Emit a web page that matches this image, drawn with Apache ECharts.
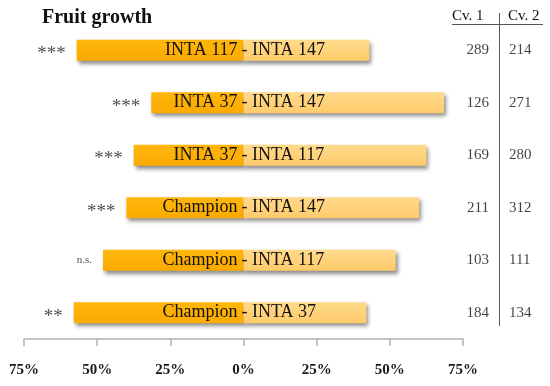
<!DOCTYPE html>
<html><head><meta charset="utf-8">
<script src="https://cdn.jsdelivr.net/npm/echarts@6/dist/echarts.min.js"></script>
<style>html,body{margin:0;padding:0;background:#fff}#c{width:550px;height:386px}</style>
</head><body><div id="c"></div>
<script>
var leftNames = ['INTA 117', 'INTA 37', 'INTA 37', 'Champion', 'Champion', 'Champion'];
var rightNames = ['INTA 147', 'INTA 147', 'INTA 117', 'INTA 147', 'INTA 117', 'INTA 37'];
var leftPct = [57, 31.5, 37.5, 40, 48, 58];
var rightPct = [43, 68.5, 62.5, 60, 52, 42];
var signif = ['***', '***', '***', '***', 'n.s.', '**'];
var cv1 = [289, 126, 169, 211, 103, 184];
var cv2 = [214, 271, 280, 312, 111, 134];
var xTicks = [-75, -50, -25, 0, 25, 50, 75];

var serif = '"Liberation Serif","DejaVu Serif",serif';
var cats = leftNames.map(function(n, i){ return 'r' + i; });
var chart = echarts.init(document.getElementById('c'));
var shadow = {shadowBlur: 4, shadowColor: 'rgba(0,0,0,0.45)', shadowOffsetX: 2, shadowOffsetY: 3};
chart.setOption({
  animation: false,
  grid: [
    {left: 24, right: 87, top: 24, bottom: 47},
    {left: 449, width: 100, top: 24, bottom: 47}
  ],
  xAxis: [
    {type: 'value', gridIndex: 0, min: xTicks[0], max: xTicks[xTicks.length - 1], interval: 25,
     splitLine: {show: false},
     axisLine: {show: true, lineStyle: {color: '#b3b3b3', width: 1.5}},
     axisTick: {show: true, length: 7, lineStyle: {color: '#b3b3b3', width: 1.5}},
     axisLabel: {margin: 24, fontFamily: serif, fontWeight: 'bold', fontSize: 15, color: '#1a1a1a',
       formatter: function(v){ return Math.abs(v) + '%'; }}},
    {type: 'value', gridIndex: 1, min: 0, max: 100, show: false}
  ],
  yAxis: [
    {type: 'category', gridIndex: 0, data: cats, inverse: true, show: false},
    {type: 'category', gridIndex: 1, data: cats, inverse: true, show: false}
  ],
  series: [
    {type: 'bar', stack: 'a', barWidth: 21, data: leftPct.map(function(v){ return -v; }),
     itemStyle: Object.assign({color: new echarts.graphic.LinearGradient(0,0,0,1,[{offset:0,color:'#FFB60A'},{offset:1,color:'#FBAA00'}])}, shadow),
     label: {show: true, position: 'insideRight', distance: 6, fontFamily: serif, fontSize: 18, color: '#111',
       formatter: function(p){ return leftNames[p.dataIndex]; }}},
    {type: 'bar', stack: 'a', barWidth: 21, data: rightPct,
     itemStyle: Object.assign({color: new echarts.graphic.LinearGradient(0,0,0,1,[{offset:0,color:'#FFDA8C'},{offset:1,color:'#FFCB6A'}])}, shadow),
     label: {show: true, position: 'insideLeft', distance: 0, offset: [-2, 0], fontFamily: serif, fontSize: 18, color: '#111',
       formatter: function(p){ return '- ' + rightNames[p.dataIndex]; }}},
    {type: 'scatter', symbolSize: 0, data: leftPct.map(function(v, i){
       return {value: [-v, i], label: {fontSize: signif[i] === 'n.s.' ? 11 : 19, offset: signif[i] === 'n.s.' ? [0, 0] : [0, 4]}};
     }),
     label: {show: true, position: 'left', distance: 11, fontFamily: serif, color: '#222',
       formatter: function(p){ return signif[p.dataIndex]; }}},
    {type: 'scatter', xAxisIndex: 1, yAxisIndex: 1, symbolSize: 0, data: cv1.map(function(v, i){ return [40, i, v]; }),
     label: {show: true, position: 'left', distance: 0, fontFamily: serif, fontSize: 15, color: '#111',
       formatter: function(p){ return cv1[p.dataIndex]; }}},
    {type: 'scatter', xAxisIndex: 1, yAxisIndex: 1, symbolSize: 0, data: cv2.map(function(v, i){ return [60, i, v]; }),
     label: {show: true, position: 'right', distance: 0, fontFamily: serif, fontSize: 15, color: '#111',
       formatter: function(p){ return cv2[p.dataIndex]; }}}
  ],
  graphic: [
    {type: 'text', left: 42, top: 8, style: {text: 'Fruit growth', font: 'bold 20px ' + serif, fill: '#111'}},
    {type: 'text', left: 452, top: 9, style: {text: 'Cv. 1', font: '15px ' + serif, fill: '#111'}},
    {type: 'text', left: 508, top: 9, style: {text: 'Cv. 2', font: '15px ' + serif, fill: '#111'}},
    {type: 'line', shape: {x1: 452, y1: 24.5, x2: 543, y2: 24.5}, style: {stroke: '#555', lineWidth: 1}},
    {type: 'line', shape: {x1: 499.5, y1: 13, x2: 499.5, y2: 326}, style: {stroke: '#555', lineWidth: 1}}
  ]
});
</script>
</body></html>
